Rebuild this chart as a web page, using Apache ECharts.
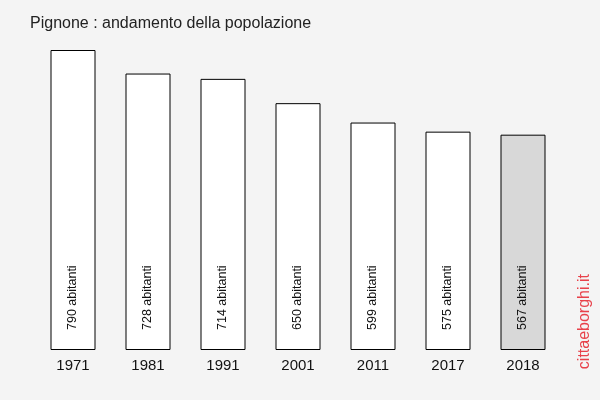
<!DOCTYPE html>
<html><head><meta charset="utf-8">
<script src="https://cdn.jsdelivr.net/npm/echarts@6/dist/echarts.min.js"></script>
<style>html,body{margin:0;padding:0;background:#f4f4f4}#c{width:600px;height:400px}</style>
</head><body><div id="c"></div>
<script>
const categories = ['1971','1981','1991','2001','2011','2017','2018'];
const population = [790, 728, 714, 650, 599, 575, 567];
const unitLabel = 'abitanti';
const highlightIndex = 6;

const chart = echarts.init(document.getElementById('c'), null, {renderer:'canvas'});
chart.setOption({
  backgroundColor: '#f4f4f4',
  animation: false,
  title: {
    text: 'Pignone : andamento della popolazione',
    left: 30, top: 16, padding: 0,
    textStyle: {fontFamily: 'Liberation Sans, Arial, sans-serif', fontSize: 16, fontWeight: 'normal', color: '#222'}
  },
  grid: {left: 35.5, right: 39.5, top: 50, bottom: 50},
  xAxis: {
    type: 'category', data: categories,
    axisLine: {show: false}, axisTick: {show: false},
    axisLabel: {fontFamily: 'Liberation Sans, Arial, sans-serif', fontSize: 15, color: '#111', margin: 8}
  },
  yAxis: {type: 'value', min: 0, max: 790, show: false, splitLine: {show: false}},
  series: [{
    type: 'bar',
    barWidth: 45,
    data: population.map((v, i) => ({
      value: v,
      itemStyle: {color: i === highlightIndex ? '#d8d8d8' : '#ffffff', borderColor: '#000', borderWidth: 1}
    })),
    label: {
      show: true, position: 'insideBottom', rotate: 90, distance: 20,
      align: 'left', verticalAlign: 'middle',
      fontFamily: 'Liberation Sans, Arial, sans-serif', fontSize: 12.5, color: '#111',
      formatter: p => p.value + ' ' + unitLabel
    }
  }],
  graphic: [{
    type: 'text', left: 577, top: 274, rotation: Math.PI/2,
    style: {text: 'cittaeborghi.it', fontFamily: 'Liberation Sans, Arial, sans-serif', fontSize: 16, fill: '#e8414a'}
  }]
});
</script></body></html>
